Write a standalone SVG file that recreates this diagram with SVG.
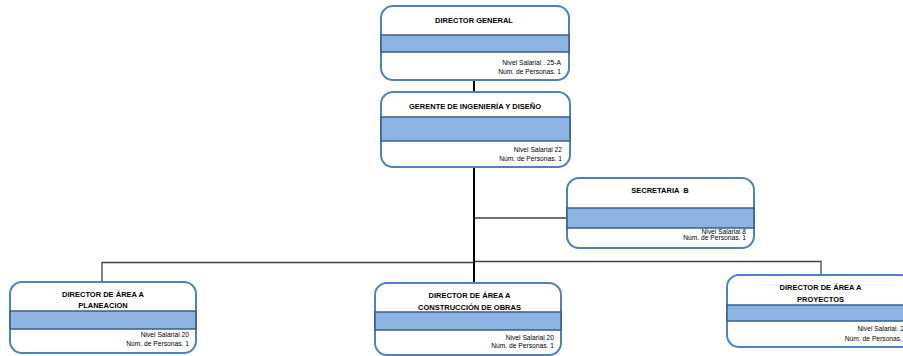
<svg xmlns="http://www.w3.org/2000/svg" width="903" height="356" viewBox="0 0 903 356">
<style>
.box{fill:#ffffff;stroke:#4f81bd;stroke-width:2}
.band{fill:#8db3e2;stroke:#385d8a;stroke-width:1.5}
.t{font-family:"Liberation Sans",Arial,sans-serif;font-weight:bold;font-size:7.5px;fill:#000;text-anchor:middle}
.s{font-family:"Liberation Sans",Arial,sans-serif;font-size:6.7px;fill:#000;text-anchor:end}
.c{fill:none;stroke:#404040;stroke-width:1.3}
.m{fill:none;stroke:#000;stroke-width:2}
</style>
<rect width="903" height="356" fill="#ffffff"/>
<g id="connectors">
<line class="m" x1="474" y1="80" x2="474" y2="92"/>
<line class="c" x1="474" y1="218" x2="567" y2="218"/>
<polyline class="c" points="102,282 102,262.5 474,262.5"/>
<polyline class="c" points="474,261.5 821,261.5 821,275"/>
<line class="m" x1="474" y1="167" x2="474" y2="283"/>
</g>
<g id="director-general">
<rect class="box" x="381" y="6" width="188" height="74" rx="12"/>
<rect class="band" x="381" y="35" width="188" height="17"/>
<text class="t" x="474" y="23.3">DIRECTOR GENERAL</text>
<text class="s" x="561" y="65">Nivel Salarial . 25-A</text>
<text class="s" x="561" y="74">Núm. de Personas. 1</text>
</g>
<g id="gerente">
<rect class="box" x="381" y="92" width="189" height="75" rx="12"/>
<rect class="band" x="381" y="117" width="189" height="24"/>
<text class="t" x="475" y="109">GERENTE DE INGENIERÍA Y DISEÑO</text>
<text class="s" x="562" y="151.7">Nivel Salarial 22</text>
<text class="s" x="562" y="161">Núm. de Personas. 1</text>
</g>
<g id="secretaria">
<rect class="box" x="567" y="178" width="187" height="70" rx="12"/>
<rect class="band" x="567" y="208" width="187" height="20"/>
<text class="t" x="660" y="193.3" xml:space="preserve">SECRETARIA  B</text>
<text class="s" x="746" y="234.3">Nivel Salarial 8</text>
<text class="s" x="746" y="240.3">Núm. de Personas. 1</text>
</g>
<g id="director-planeacion">
<rect class="box" x="10" y="282" width="186" height="71" rx="12"/>
<rect class="band" x="10" y="311" width="186" height="18"/>
<text class="t" x="103" y="296.7">DIRECTOR DE ÁREA A</text>
<text class="t" x="103" y="307.7">PLANEACION</text>
<text class="s" x="189" y="337.3">Nivel Salarial 20</text>
<text class="s" x="189" y="345.7">Núm. de Personas. 1</text>
</g>
<g id="director-construccion">
<rect class="box" x="375" y="283" width="186" height="72" rx="12"/>
<rect class="band" x="375" y="312" width="186" height="18"/>
<text class="t" x="469.5" y="298.3">DIRECTOR DE ÁREA A</text>
<text class="t" x="469.5" y="310">CONSTRUCCIÓN DE OBRAS</text>
<text class="s" x="554" y="340">Nivel Salarial 20</text>
<text class="s" x="554" y="348.3">Núm. de Personas. 1</text>
</g>
<g id="director-proyectos">
<rect class="box" x="727" y="275" width="186" height="72" rx="12"/>
<rect class="band" x="727" y="305" width="186" height="16"/>
<text class="t" x="820.5" y="290">DIRECTOR DE ÁREA A</text>
<text class="t" x="820.5" y="301.7">PROYECTOS</text>
<text class="s" x="904" y="331">Nivel Salarial. 2</text>
<text class="s" x="902" y="340.7">Núm. de Personas.</text>
</g>
</svg>
